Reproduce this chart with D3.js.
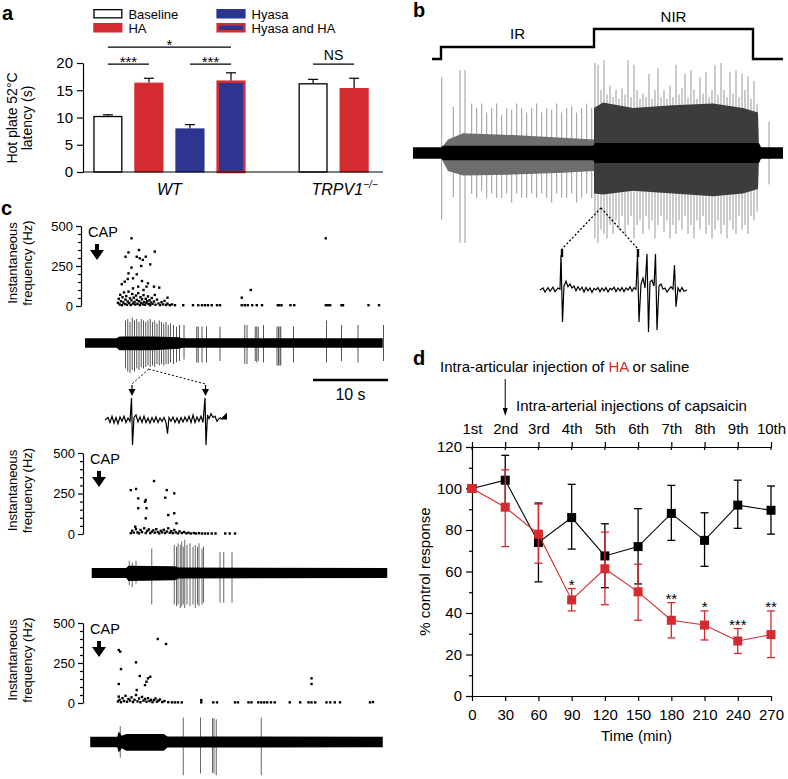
<!DOCTYPE html>
<html>
<head>
<meta charset="utf-8">
<script src="https://cdn.jsdelivr.net/npm/d3@7"></script>
<style>
body { margin: 0; background: #fff; }
svg { display: block; font-family: "Liberation Sans", Arial, Helvetica, sans-serif; }
</style>
</head>
<body>
<svg id="fig" width="788" height="779"></svg>
<script>
// ---------- panel a : hot plate latency ----------
var aSlots = ["WT|Baseline", "WT|HA", "WT|Hyasa", "WT|Hyasa and HA", "gap", "TRPV1|Baseline", "TRPV1|HA"];
var aBars = ["WT|Baseline", "WT|HA", "WT|Hyasa", "WT|Hyasa and HA", "TRPV1|Baseline", "TRPV1|HA"];
var aMeans = [10.3, 16.4, 8.0, 16.8, 16.3, 15.4];
var aErrs = [0.2, 0.8, 0.7, 1.4, 0.7, 1.8];
var aTicks = [0, 5, 10, 15, 20];
var aLegend = ["Baseline", "HA", "Hyasa", "Hyasa and HA"];
var aSigFrom = [0, 2, 0, 4];
var aSigTo = [1, 3, 3, 5];
var aSigLevel = [19.8, 19.8, 22.9, 19.8];
var aSigText = ["***", "***", "*", "NS"];

// ---------- panel b : IR / NIR recording ----------
var bStim = [[1.9, 0], [2.8, 1], [18.1, 2.5], [34.0, 0], [37, 0]];
var bCore = [[0, 0.065, 0.065], [2.8, 0.065, 0.065], [3.0, 0.08, 0.08], [18.0, 0.08, 0.08], [18.2, 0.11, 0.11], [34.6, 0.11, 0.11], [34.8, 0.065, 0.065], [37, 0.065, 0.065]];
var bIRBand = [[2.8, 0.05, 0.05], [3.5, 0.15, 0.2], [5, 0.22, 0.25], [10, 0.2, 0.24], [15, 0.17, 0.22], [18.1, 0.15, 0.2]];
var bNIRBand = [[18.1, 0.5, 0.45], [19, 0.56, 0.46], [22, 0.5, 0.42], [26, 0.53, 0.45], [30, 0.55, 0.48], [33, 0.5, 0.45], [34.5, 0.45, 0.4], [34.6, 0.05, 0.05]];
var bIRSpikes = [[2.87, 0.84, 0.74], [4.03, 0.51, 0.49], [4.7, 0.92, 1.0], [5.2, 0.92, 1.0], [5.87, 0.55, 0.45], [6.37, 0.5, 0.5],
  [6.87, 0.55, 0.42], [7.37, 0.45, 0.5], [7.87, 0.5, 0.45], [8.37, 0.55, 0.5], [8.87, 0.42, 0.5], [9.37, 0.5, 0.45],
  [9.87, 0.48, 0.55], [10.37, 0.55, 0.45], [10.87, 0.5, 0.5], [11.37, 0.45, 0.5], [11.87, 0.5, 0.45], [12.37, 0.55, 0.5],
  [12.87, 0.45, 0.45], [13.37, 0.5, 0.5], [13.87, 0.48, 0.55], [14.37, 0.55, 0.45], [14.87, 0.45, 0.5], [15.37, 0.5, 0.5],
  [15.87, 0.52, 0.45], [16.37, 0.45, 0.55], [16.87, 0.5, 0.5], [17.37, 0.55, 0.45], [17.87, 0.5, 0.5]];
var bNIRSpikes = [[18.2, 1.0, 0.95], [18.5, 0.98, 1.0], [18.8, 0.7, 0.85], [19.1, 1.03, 0.9], [19.4, 0.65, 0.95], [19.7, 0.75, 0.8],
  [20.0, 0.62, 0.9], [20.3, 0.7, 0.75], [20.6, 0.6, 0.85], [20.9, 0.72, 0.7], [21.2, 0.65, 0.9], [21.5, 1.03, 0.8],
  [21.8, 0.62, 0.7], [22.1, 0.98, 0.95], [22.4, 0.7, 0.8], [22.7, 0.6, 0.75], [23.0, 0.66, 0.9], [23.3, 0.62, 0.7],
  [23.6, 0.88, 0.85], [23.9, 0.6, 0.75], [24.2, 0.7, 0.95], [24.5, 0.94, 0.8], [24.8, 0.62, 0.7], [25.1, 0.7, 0.88],
  [25.4, 0.6, 0.75], [25.7, 0.75, 0.95], [26.0, 0.62, 0.8], [26.3, 0.98, 0.9], [26.6, 0.65, 0.75], [26.9, 0.72, 0.85],
  [27.2, 0.88, 0.7], [27.5, 0.62, 0.9], [27.8, 0.92, 0.8], [28.1, 0.7, 0.95], [28.4, 0.6, 0.75], [28.7, 0.84, 0.85],
  [29.0, 0.66, 0.7], [29.3, 0.9, 0.9], [29.6, 0.62, 0.8], [29.9, 0.7, 0.95], [30.2, 0.98, 0.85], [30.5, 0.65, 0.75],
  [30.8, 1.0, 0.9], [31.1, 0.7, 0.8], [31.4, 0.62, 0.95], [31.7, 0.9, 0.75], [32.0, 0.66, 0.85], [32.3, 0.92, 0.9],
  [32.6, 0.62, 0.7], [32.9, 0.88, 0.85], [33.2, 0.7, 0.8], [33.5, 0.85, 0.9], [33.8, 0.6, 0.7], [34.1, 0.8, 0.75],
  [34.4, 0.55, 0.65], [35.6, 0.35, 0.35]];
var bZoomFrom = [18.8, -0.61];
var bInset = [[0, 0], [3, 0.05], [5, -0.05], [8, 0.06], [10, -0.03], [13, 0.07], [15, -0.04], [18, 0.05], [20, 0.02], [21, 0.87],
  [22.5, -0.8], [24, 0.1], [26, 0.22], [28, 0.08], [30, 0.15], [32, 0.05], [34, 0.1], [36, -0.02], [38, 0.08], [40, 0],
  [42, 0.07], [44, -0.05], [46, 0.06], [48, -0.02], [50, 0.05], [52, -0.06], [54, 0.04], [56, 0], [58, 0.06], [60, -0.04],
  [62, 0.05], [64, -0.02], [66, 0.06], [68, -0.05], [70, 0.04], [72, 0.01], [74, 0.07], [76, -0.04], [78, 0.05], [80, -0.02],
  [82, 0.06], [84, -0.04], [86, 0.05], [88, 0], [90, 0.08], [92, -0.03], [94, 0.06], [96, 0.02], [97.5, 0.87], [99, -0.8],
  [101, 0.15], [103, 0.3], [105, 0.05], [107, 0.9], [108.5, -1.05], [110, 0.2], [112, 0.25], [114, 0.1], [115.5, 0.9],
  [117, -1.0], [119, 0.1], [121, 0.15], [123, 0.02], [125, 0.05], [127, -0.05], [129, 0.02], [131, 0.08], [133, 0.02],
  [134.5, 0.62], [136, -0.42], [138, 0.05], [140, -0.04], [142, 0.06], [144, -0.03], [147, 0]];
var bInsetMarks = [22, 98];

// ---------- panel c : capsaicin responses ----------
var cTicks = [0, 250, 500];
var cMinor = [50, 100, 150, 200, 300, 350, 400, 450];
var c1Dots = [[6.2, 423], [7.2, 350], [5.8, 335], [5.4, 308], [9.3, 340], [6.9, 308], [7.3, 298], [8.1, 308], [7.7, 288], [8.7, 260],
  [6.2, 240], [7.5, 250], [5.8, 204], [6.9, 198], [5.7, 169], [5.3, 152], [4.9, 136], [6.4, 173], [7.6, 156], [8.4, 142],
  [8.2, 121], [9.2, 121], [9.9, 115], [6.4, 110], [7.1, 121], [7.8, 100], [9.3, 69], [11.0, 52],
  [4.4, 20], [4.5, 45], [4.6, 10], [4.7, 70], [4.8, 30], [4.9, 5], [5.0, 55], [5.1, 22], [5.2, 85], [5.3, 12], [5.4, 40],
  [5.5, 62], [5.6, 8], [5.7, 28], [5.8, 90], [5.9, 18], [6.0, 48], [6.1, 6], [6.2, 35], [6.3, 75], [6.4, 15], [6.5, 52],
  [6.6, 25], [6.7, 9], [6.8, 65], [6.9, 38], [7.0, 14], [7.1, 80], [7.2, 30], [7.3, 6], [7.4, 55], [7.5, 20], [7.6, 42],
  [7.7, 10], [7.8, 68], [7.9, 25], [8.0, 8], [8.1, 45], [8.2, 18], [8.3, 30], [8.4, 60], [8.5, 12], [8.6, 36], [8.7, 5],
  [8.8, 22], [8.9, 50], [9.0, 14], [9.2, 28], [9.4, 8], [9.6, 40], [9.8, 16], [10.0, 6], [10.2, 24], [10.4, 10], [10.6, 32],
  [10.8, 7], [11.0, 15], [11.3, 5], [11.6, 10], [12.0, 5], [13.1, 5], [14.4, 5], [15.1, 5], [15.6, 5], [16.0, 5], [16.4, 5],
  [16.9, 5], [17.6, 5], [18.0, 5], [20.9, 5], [20.9, 52], [21.3, 5], [21.7, 5], [22.1, 100], [22.3, 5], [22.9, 5], [23.6, 5],
  [25.7, 5], [25.9, 5], [26.2, 5], [27.4, 5], [27.9, 5], [32.1, 423], [32.1, 5], [32.4, 5], [32.7, 5], [34.2, 5], [34.4, 5],
  [37.8, 5], [39.2, 5]];
var c2Dots = [[9.2, 327], [6.1, 271], [6.8, 278], [7.1, 220], [8.1, 210], [8.0, 199], [10.9, 271], [11.9, 251], [10.7, 224],
  [7.1, 159], [8.2, 159], [8.1, 97], [11.1, 117], [11.9, 128], [12.2, 66], [6.7, 45],
  [6.1, 5], [6.3, 20], [6.5, 8], [6.8, 30], [7.0, 10], [7.2, 4], [7.4, 25], [7.6, 12], [7.9, 35], [8.1, 6], [8.3, 18],
  [8.5, 28], [8.7, 5], [8.9, 14], [9.1, 22], [9.3, 8], [9.5, 30], [9.7, 12], [9.9, 4], [10.1, 20], [10.3, 10], [10.5, 26],
  [10.7, 6], [10.9, 15], [11.1, 35], [11.3, 8], [11.5, 18], [11.7, 5], [11.9, 25], [12.1, 10], [12.4, 4], [12.6, 16],
  [12.9, 6], [13.2, 12], [13.5, 4], [13.8, 8], [14.1, 3], [14.5, 6], [14.8, 3], [15.2, 5], [15.6, 3], [16.0, 3], [16.4, 3],
  [16.9, 3], [17.4, 3], [18.7, 3], [19.3, 3], [20.0, 3]];
var c3Dots = [[9.7, 400], [10.8, 369], [4.5, 331], [4.7, 321], [6.8, 254], [4.8, 212], [7.3, 169], [8.4, 154], [8.7, 164],
  [8.2, 133], [8.0, 112], [4.5, 119], [6.9, 81], [30.2, 154], [30.2, 119],
  [4.4, 10], [4.5, 40], [4.6, 20], [4.8, 5], [5.0, 30], [5.2, 12], [5.4, 45], [5.6, 8], [5.8, 25], [6.0, 15], [6.2, 35],
  [6.4, 6], [6.6, 20], [6.8, 50], [7.0, 10], [7.2, 28], [7.4, 5], [7.6, 38], [7.8, 15], [8.0, 25], [8.2, 8], [8.4, 30],
  [8.6, 12], [8.8, 20], [9.0, 5], [9.2, 18], [9.4, 28], [9.6, 8], [9.8, 15], [10.0, 22], [10.3, 6], [10.6, 12], [11.1, 5],
  [11.6, 4], [12.0, 4], [12.4, 4], [12.9, 4], [15.5, 4], [15.5, 18], [17.1, 4], [17.6, 4], [20.0, 4], [20.4, 4], [21.8, 4],
  [22.2, 4], [23.1, 4], [23.5, 4], [23.9, 4], [24.3, 4], [24.8, 4], [25.3, 4], [27.3, 4], [28.7, 4], [29.8, 4], [30.2, 4],
  [30.7, 4], [32.2, 4], [32.7, 4], [33.3, 4], [34.0, 4], [38.0, 4], [38.4, 6]];
var c1Env = [[0, 0.16, 0.16], [4.2, 0.16, 0.16], [4.6, 0.22, 0.24], [9, 0.22, 0.24], [12.5, 0.19, 0.19], [13, 0.16, 0.16], [39.7, 0.16, 0.16]];
var c1Spikes = [[5.4, 0.75, 0.85], [5.7, 0.8, 0.95], [6.0, 0.7, 1.0], [6.3, 0.85, 0.9], [6.6, 0.75, 0.95], [6.9, 0.8, 0.85],
  [7.2, 0.7, 0.9], [7.5, 0.8, 0.8], [7.8, 0.75, 0.85], [8.1, 0.7, 0.8], [8.4, 0.75, 0.75], [8.7, 0.8, 0.8], [9.0, 0.7, 0.75],
  [9.3, 0.75, 0.8], [9.6, 0.65, 0.7], [9.9, 0.75, 0.75], [10.2, 0.7, 0.7], [10.5, 0.65, 0.75], [10.8, 0.7, 0.7],
  [11.1, 0.6, 0.7], [11.4, 0.65, 0.65], [11.8, 0.6, 0.7], [12.2, 0.55, 0.65], [12.6, 0.6, 0.6], [13.2, 0.6, 0.55],
  [14.9, 0.55, 0.65], [15.1, 0.55, 0.65], [15.6, 0.55, 0.65], [16.2, 0.55, 0.65], [18.0, 0.55, 0.6], [21.3, 0.6, 0.7],
  [21.6, 0.6, 0.7], [22.7, 0.55, 0.6], [22.9, 0.55, 0.65], [23.1, 0.55, 0.6], [23.8, 0.6, 0.65], [25.6, 0.55, 0.75],
  [25.8, 0.55, 0.75], [26.0, 0.55, 0.75], [26.1, 0.55, 0.75], [27.8, 0.55, 0.65], [32.2, 0.75, 0.65], [34.2, 0.6, 0.6],
  [36.4, 0.6, 0.65], [39.8, 0.6, 0.6]];
var c2Env = [[0.9, 0.14, 0.14], [5.5, 0.14, 0.14], [5.8, 0.21, 0.23], [12, 0.19, 0.21], [12.5, 0.16, 0.16], [40.3, 0.14, 0.14]];
var c2Spikes = [[5.9, 0.35, 0.35], [6.3, 0.3, 0.4], [6.8, 0.35, 0.3], [8.9, 0.7, 0.9], [11.9, 0.8, 0.9], [12.2, 0.75, 0.95],
  [12.4, 0.85, 0.9], [12.7, 0.8, 1.0], [12.9, 0.9, 0.95], [13.1, 0.75, 0.9], [13.3, 0.95, 1.0], [13.6, 0.8, 0.9],
  [14.0, 0.85, 0.95], [14.4, 0.75, 0.9], [14.7, 0.8, 1.0], [15.0, 0.75, 0.9], [15.2, 0.85, 0.95], [15.6, 0.7, 0.9],
  [15.8, 0.75, 0.85], [18.0, 0.6, 0.85], [18.5, 0.6, 0.85], [19.6, 0.6, 0.85]];
var c3Env = [[0.7, 0.15, 0.15], [4.3, 0.15, 0.15], [4.5, 0.3, 0.3], [4.9, 0.18, 0.18], [5.5, 0.23, 0.25], [10.5, 0.23, 0.25], [11, 0.16, 0.16], [39.7, 0.15, 0.15]];
var c3Spikes = [[4.7, 0.45, 0.45], [13.1, 0.7, 0.95], [15.4, 0.7, 0.9], [17.0, 0.68, 0.88], [17.2, 0.68, 0.9], [17.5, 0.65, 0.95], [23.5, 0.7, 0.95]];
var cZoomFrom = [8.5, -0.87];
var cInset = [[0, 0], [3, 0.1], [5, -0.1], [7, 0.15], [9, -0.12], [11, 0.1], [13, -0.15], [15, 0.12], [17, -0.05], [19, 0.15],
  [21, -0.1], [23, 0.08], [25, -0.05], [26.5, 0.88], [27.5, -1.0], [29, 0.1], [31, 0.2], [33, -0.08], [35, 0.12], [37, -0.1],
  [39, 0.15], [41, -0.1], [43, 0.08], [45, -0.12], [47, 0.1], [49, -0.08], [51, 0.12], [53, -0.1], [55, 0.08], [57, -0.06],
  [59, 0.1], [61, -0.1], [62.5, -0.55], [64, 0.1], [66, -0.05], [68, 0.12], [70, -0.1], [72, 0.08], [74, -0.12], [76, 0.1],
  [78, -0.08], [80, 0.12], [82, -0.06], [84, 0.15], [86, -0.1], [88, 0.2], [90, -0.1], [92, 0.12], [94, -0.05], [96, 0.15],
  [98, -0.1], [100, 0.88], [101, -1.0], [102.5, 0.2], [104, 0.05], [106, 0.25], [108, 0.1], [110, 0.15], [112, -0.05],
  [114, 0.05], [116, 0.1]];
var cInsetMarks = [27, 100.5];
var cScaleBar = [30.4, 40.4];

// ---------- panel d : capsaicin response time course ----------
var dTimes = [0, 30, 60, 90, 120, 150, 180, 210, 240, 270];
var dOrdinals = ["1st", "2nd", "3rd", "4th", "5th", "6th", "7th", "8th", "9th", "10th"];
var dTicks = [0, 20, 40, 60, 80, 100, 120];
var dMinor = [10, 30, 50, 70, 90, 110];
var salineMean = [100, 104, 74, 86, 67.5, 72, 88, 75, 92, 89.5];
var salineLo = [100, 92, 55, 70.8, 52.2, 54, 75, 62.5, 80.8, 78];
var salineHi = [100, 116, 93, 102, 83, 90.3, 101.5, 88.3, 104, 101.2];
var haMean = [100, 91, 78, 46.3, 61.3, 50.2, 36.5, 34.2, 26.5, 29.6];
var haLo = [100, 72, 64, 41, 44, 36.5, 28, 27, 20.5, 18.5];
var haHi = [100, 109, 92.5, 51.8, 79, 63.5, 45, 41, 32.5, 41];
var dStarTimes = [90, 180, 210, 240, 270];
var dStarText = ["*", "**", "*", "***", "**"];

var FONT = '"Liberation Sans", Arial, Helvetica, sans-serif';
var RED = "#d52a30", BLUE = "#2d3590";
var svg = d3.select("#fig");

function styleAxis(g, size) {
  g.attr("font-family", FONT).attr("font-size", size);
  g.selectAll("text").attr("fill", "#000");
  g.selectAll("line,path").attr("stroke", "#000").attr("stroke-width", 1.2);
}
function letter(t, x, y) {
  svg.append("text").attr("x", x).attr("y", y).attr("font-size", 20).attr("font-weight", "bold").text(t);
}
function vLabel(lines, x0, yc, size, gap) {
  lines.forEach(function(s, i) {
    svg.append("text").attr("transform", "translate(" + (x0 + i * gap) + "," + yc + ") rotate(-90)")
      .attr("text-anchor", "middle").attr("font-size", size).text(s);
  });
}
function drawTrace(tx, ty, env, spikes, color) {
  svg.append("g").selectAll("line").data(spikes).join("line")
    .attr("x1", function(d) { return tx(d[0]); }).attr("x2", function(d) { return tx(d[0]); })
    .attr("y1", function(d) { return ty(d[1]); }).attr("y2", function(d) { return ty(-d[2]); })
    .attr("stroke", color).attr("stroke-width", 1);
  svg.append("path").datum(env)
    .attr("d", d3.area().x(function(d) { return tx(d[0]); })
      .y0(function(d) { return ty(-d[2]); }).y1(function(d) { return ty(d[1]); }))
    .attr("fill", "#000");
}

// ================= panel a =================
letter("a", 2, 20);
var xa = d3.scaleBand().domain(aSlots).range([81, 381]).paddingInner(0.29).paddingOuter(0.3);
var ya = d3.scaleLinear().domain([0, 20]).range([172, 63]);
var aFill = {"Baseline": "#fff", "HA": RED, "Hyasa": BLUE, "Hyasa and HA": BLUE};
var aStroke = {"Baseline": "#000", "HA": RED, "Hyasa": BLUE, "Hyasa and HA": RED};
var aSW = {"Baseline": 1.3, "HA": 1, "Hyasa": 1, "Hyasa and HA": 2.6};
var bw = xa.bandwidth();

var gA = svg.append("g");
aBars.forEach(function(key, i) {
  var tr = key.split("|")[1], x = xa(key), sw = aSW[tr];
  gA.append("rect").attr("x", x + sw / 2).attr("y", ya(aMeans[i]) + sw / 2)
    .attr("width", bw - sw).attr("height", ya(0) - ya(aMeans[i]) - sw / 2)
    .attr("fill", aFill[tr]).attr("stroke", aStroke[tr]).attr("stroke-width", sw);
  var cx = x + bw / 2, top = ya(aMeans[i] + aErrs[i]);
  gA.append("line").attr("x1", cx).attr("x2", cx).attr("y1", ya(aMeans[i])).attr("y2", top).attr("stroke", "#000").attr("stroke-width", 1.2);
  gA.append("line").attr("x1", cx - 5).attr("x2", cx + 5).attr("y1", top).attr("y2", top).attr("stroke", "#000").attr("stroke-width", 1.2);
});
var axA = gA.append("g").attr("transform", "translate(" + (xa.range()[0] + 2) + ",0)")
  .call(d3.axisLeft(ya).tickValues(aTicks).tickSize(6).tickSizeOuter(0).tickPadding(4));
styleAxis(axA, 15);
gA.append("line").attr("x1", xa.range()[0] + 2).attr("x2", xa.range()[1] + 2).attr("y1", ya(0)).attr("y2", ya(0))
  .attr("stroke", "#000").attr("stroke-width", 1.2);

aSigText.forEach(function(s, k) {
  var x1 = xa(aBars[aSigFrom[k]]) + bw / 2, x2 = xa(aBars[aSigTo[k]]) + bw / 2, y = ya(aSigLevel[k]);
  gA.append("line").attr("x1", x1).attr("x2", x2).attr("y1", y).attr("y2", y).attr("stroke", "#000").attr("stroke-width", 1.2);
  gA.append("text").attr("x", (x1 + x2) / 2).attr("y", s === "NS" ? y - 4 : y + 3)
    .attr("text-anchor", "middle").attr("font-size", s === "NS" ? 14 : 15).text(s);
});

aLegend.forEach(function(tr, i) {
  var lx = i < 2 ? xa("WT|Baseline") : xa("WT|Hyasa and HA"), ly = 9 + (i % 2) * 14, sw = aSW[tr];
  gA.append("rect").attr("x", lx + sw / 2).attr("y", ly + sw / 2).attr("width", bw - sw).attr("height", 9.5 - sw)
    .attr("fill", aFill[tr]).attr("stroke", aStroke[tr]).attr("stroke-width", sw);
  gA.append("text").attr("x", lx + bw + 6).attr("y", ly + 9.5).attr("font-size", 13).text(tr);
});

gA.append("text").attr("x", (xa("WT|Baseline") + xa("WT|Hyasa and HA") + bw) / 2).attr("y", 195)
  .attr("text-anchor", "middle").attr("font-size", 16).attr("font-style", "italic").text("WT");
var trpv = gA.append("text").attr("x", xa("TRPV1|Baseline") + 13).attr("y", 195)
  .attr("font-size", 16).attr("font-style", "italic");
trpv.append("tspan").text("TRPV1");
trpv.append("tspan").attr("font-size", 10).attr("dy", -7).text("\u2212/\u2212");
vLabel(["Hot plate 52\u00b0C", "latency (s)"], 17, 118, 14, 15);

// ================= panel b =================
letter("b", 413, 17);
var bx = d3.scaleLinear().domain([0, 37]).range([413, 783]);
var by = d3.scaleLinear().domain([-1, 1]).range([243, 63]);
var bLevel = d3.scaleLinear().domain([0, 2.5]).range([59, 29]);
svg.append("path").datum(bStim)
  .attr("d", d3.line().x(function(d) { return bx(d[0]); }).y(function(d) { return bLevel(d[1]); }).curve(d3.curveStepAfter))
  .attr("fill", "none").attr("stroke", "#000").attr("stroke-width", 2.4);
svg.append("text").attr("x", bx((bStim[1][0] + bStim[2][0]) / 2)).attr("y", bLevel(1) - 8)
  .attr("text-anchor", "middle").attr("font-size", 15).text("IR");
svg.append("text").attr("x", bx((bStim[2][0] + bStim[3][0]) / 2)).attr("y", bLevel(2.5) - 7)
  .attr("text-anchor", "middle").attr("font-size", 15).text("NIR");

svg.append("g").selectAll("line").data(bIRSpikes.concat(bNIRSpikes)).join("line")
  .attr("x1", function(d) { return bx(d[0]); }).attr("x2", function(d) { return bx(d[0]); })
  .attr("y1", function(d) { return by(d[1]); }).attr("y2", function(d) { return by(-d[2]); })
  .attr("stroke", "#999").attr("stroke-width", 1);
var bArea = d3.area().x(function(d) { return bx(d[0]); })
  .y0(function(d) { return by(-d[2]); }).y1(function(d) { return by(d[1]); });
svg.append("path").datum(bIRBand).attr("d", bArea).attr("fill", "#6e6e6e");
svg.append("path").datum(bNIRBand).attr("d", bArea).attr("fill", "#3c3c3c");
svg.append("path").datum(bCore).attr("d", bArea).attr("fill", "#000");

var bInX = d3.scaleLinear().domain([0, 147]).range([540, 687]);
var bInY = d3.scaleLinear().domain([-1, 1]).range([330, 250]);
svg.append("path").datum(bInset)
  .attr("d", d3.line().x(function(d) { return bInX(d[0]); }).y(function(d) { return bInY(d[1]); }))
  .attr("fill", "none").attr("stroke", "#000").attr("stroke-width", 1.2);
bInsetMarks.forEach(function(m) {
  svg.append("line").attr("x1", bx(bZoomFrom[0])).attr("y1", by(bZoomFrom[1]))
    .attr("x2", bInX(m)).attr("y2", bInY(1) - 1).attr("stroke", "#000").attr("stroke-width", 1.3).attr("stroke-dasharray", "2,2");
  svg.append("rect").attr("x", bInX(m) - 1.2).attr("y", bInY(1) - 1).attr("width", 2.4).attr("height", 8).attr("fill", "#000");
});

// ================= panel c =================
letter("c", 1, 215);
var cx = d3.scaleLinear().domain([0, 40]).range([85, 385]);
var cPanels = [
  {dots: c1Dots, env: c1Env, spikes: c1Spikes, axisX: 81, y0: 306, y500: 226, tc: 343, amp: 30},
  {dots: c2Dots, env: c2Env, spikes: c2Spikes, axisX: 83, y0: 534, y500: 453, tc: 573, amp: 35},
  {dots: c3Dots, env: c3Env, spikes: c3Spikes, axisX: 83, y0: 703, y500: 623, tc: 742, amp: 35}
];
cPanels.forEach(function(p, k) {
  var cy = d3.scaleLinear().domain([0, 500]).range([p.y0, p.y500]);
  var ct = d3.scaleLinear().domain([-1, 1]).range([p.tc + p.amp, p.tc - p.amp]);
  p.ct = ct;
  var ax = svg.append("g").attr("transform", "translate(" + p.axisX + ",0)")
    .call(d3.axisLeft(cy).tickValues(cTicks).tickSize(5).tickSizeOuter(0).tickPadding(3));
  styleAxis(ax, 13);
  var mn = svg.append("g").attr("transform", "translate(" + p.axisX + ",0)")
    .call(d3.axisLeft(cy).tickValues(cMinor).tickSize(3).tickFormat(""));
  mn.select(".domain").remove();
  styleAxis(mn, 13);
  vLabel(["Instantaneous", "frequency (Hz)"], 17, cy(250) - 3, 13, 15);
  var capY = cy(500);
  svg.append("text").attr("x", p.axisX + 7).attr("y", capY + 11).attr("font-size", 14.5).text("CAP");
  var ax0 = p.axisX + 16, ay = capY + 18;
  svg.append("path")
    .attr("d", "M" + (ax0 - 2) + "," + ay + "h4v6h5l-7,10l-7,-10h5z").attr("fill", "#000");
  svg.append("g").selectAll("rect").data(p.dots).join("rect")
    .attr("x", function(d) { return cx(d[0]) - 1.2; }).attr("y", function(d) { return cy(d[1]) - 1.2; })
    .attr("width", 2.4).attr("height", 2.4).attr("fill", "#000");
  drawTrace(cx, ct, p.env, p.spikes, k === 0 ? "#555" : "#666");
});

// scale bar
svg.append("line").attr("x1", cx(cScaleBar[0])).attr("x2", cx(cScaleBar[1])).attr("y1", 380).attr("y2", 380)
  .attr("stroke", "#000").attr("stroke-width", 2.5);
svg.append("text").attr("x", cx((cScaleBar[0] + cScaleBar[1]) / 2)).attr("y", 400)
  .attr("text-anchor", "middle").attr("font-size", 16).text("10 s");

// inset of panel c
var cInX = d3.scaleLinear().domain([0, 120]).range([105, 225]);
var cInY = d3.scaleLinear().domain([-1, 1]).range([445, 395]);
svg.append("path").datum(cInset)
  .attr("d", d3.line().x(function(d) { return cInX(d[0]); }).y(function(d) { return cInY(d[1]); }))
  .attr("fill", "none").attr("stroke", "#000").attr("stroke-width", 1.2);
var lastPt = cInset[cInset.length - 1];
svg.append("path")
  .attr("d", "M" + (cInX(lastPt[0]) - 1) + "," + (cInY(lastPt[1]) + 2) + "l7,-7v7z").attr("fill", "#000");
cInsetMarks.forEach(function(m) {
  var mx = cInX(m), top = cInY(1) - 10;
  svg.append("line").attr("x1", cx(cZoomFrom[0])).attr("y1", cPanels[0].ct(cZoomFrom[1]))
    .attr("x2", mx).attr("y2", top - 1).attr("stroke", "#000").attr("stroke-width", 1).attr("stroke-dasharray", "2,2");
  svg.append("line").attr("x1", mx).attr("x2", mx).attr("y1", top).attr("y2", top + 5).attr("stroke", "#000").attr("stroke-width", 1.2);
  svg.append("path").attr("d", "M" + (mx - 3.5) + "," + (top + 4) + "h7l-3.5,7z").attr("fill", "#000");
});

// ================= panel d =================
letter("d", 413, 365);
var xd = d3.scaleLinear().domain([0, 270]).range([472, 771]);
var yd = d3.scaleLinear().domain([0, 120]).range([696, 447]);

var t1 = svg.append("text").attr("x", 440).attr("y", 372).attr("font-size", 15);
t1.append("tspan").text("Intra-articular injection of ");
t1.append("tspan").attr("fill", RED).text("HA");
t1.append("tspan").text(" or saline");
svg.append("line").attr("x1", xd(30)).attr("x2", xd(30)).attr("y1", 379).attr("y2", 410).attr("stroke", "#000").attr("stroke-width", 1);
svg.append("path").attr("d", "M" + (xd(30) - 2.5) + ",408h5l-2.5,8z").attr("fill", "#000");
svg.append("text").attr("x", 516).attr("y", 411).attr("font-size", 15).text("Intra-arterial injections of capsaicin");

var axL = svg.append("g").attr("transform", "translate(" + xd(0) + ",0)")
  .call(d3.axisLeft(yd).tickValues(dTicks).tickSize(6).tickSizeOuter(0).tickPadding(4));
styleAxis(axL, 15);
var axLm = svg.append("g").attr("transform", "translate(" + xd(0) + ",0)")
  .call(d3.axisLeft(yd).tickValues(dMinor).tickSize(3).tickFormat(""));
axLm.select(".domain").remove();
styleAxis(axLm, 15);
var axB = svg.append("g").attr("transform", "translate(0," + yd(0) + ")")
  .call(d3.axisBottom(xd).tickValues(dTimes).tickSize(5).tickSizeOuter(0).tickPadding(8));
styleAxis(axB, 15);
var axT = svg.append("g").attr("transform", "translate(0," + yd(120) + ")")
  .call(d3.axisTop(xd).tickValues(dTimes).tickSize(5).tickSizeOuter(0).tickPadding(8)
    .tickFormat(function(d, i) { return dOrdinals[i]; }));
styleAxis(axT, 15);
axT.append("g").selectAll("line").data(dTimes).join("line")
  .attr("x1", function(d) { return xd(d); }).attr("x2", function(d) { return xd(d); })
  .attr("y1", 0).attr("y2", 3).attr("stroke", "#000").attr("stroke-width", 1.2);

vLabel(["% control response"], 430, yd(60), 15, 0);
svg.append("text").attr("x", xd(135) + 15).attr("y", 741).attr("text-anchor", "middle").attr("font-size", 15).text("Time (min)");

function series(mean, lo, hi, color) {
  var g = svg.append("g");
  g.append("path").datum(dTimes)
    .attr("d", d3.line().x(function(t) { return xd(t); }).y(function(t, i) { return yd(mean[i]); }))
    .attr("fill", "none").attr("stroke", color).attr("stroke-width", 1.1);
  dTimes.forEach(function(t, i) {
    var x = xd(t);
    g.append("line").attr("x1", x).attr("x2", x).attr("y1", yd(lo[i])).attr("y2", yd(hi[i])).attr("stroke", color).attr("stroke-width", 1.3);
    [lo[i], hi[i]].forEach(function(v) {
      g.append("line").attr("x1", x - 4).attr("x2", x + 4).attr("y1", yd(v)).attr("y2", yd(v)).attr("stroke", color).attr("stroke-width", 1.3);
    });
    g.append("rect").attr("x", x - 4.5).attr("y", yd(mean[i]) - 4.5).attr("width", 9).attr("height", 9).attr("fill", color);
  });
}
series(salineMean, salineLo, salineHi, "#000");
series(haMean, haLo, haHi, RED);

dStarTimes.forEach(function(t, k) {
  var i = dTimes.indexOf(t);
  svg.append("text").attr("x", xd(t)).attr("y", yd(haHi[i]) + 1).attr("text-anchor", "middle")
    .attr("font-size", 15).text(dStarText[k]);
});
</script>
</body>
</html>
